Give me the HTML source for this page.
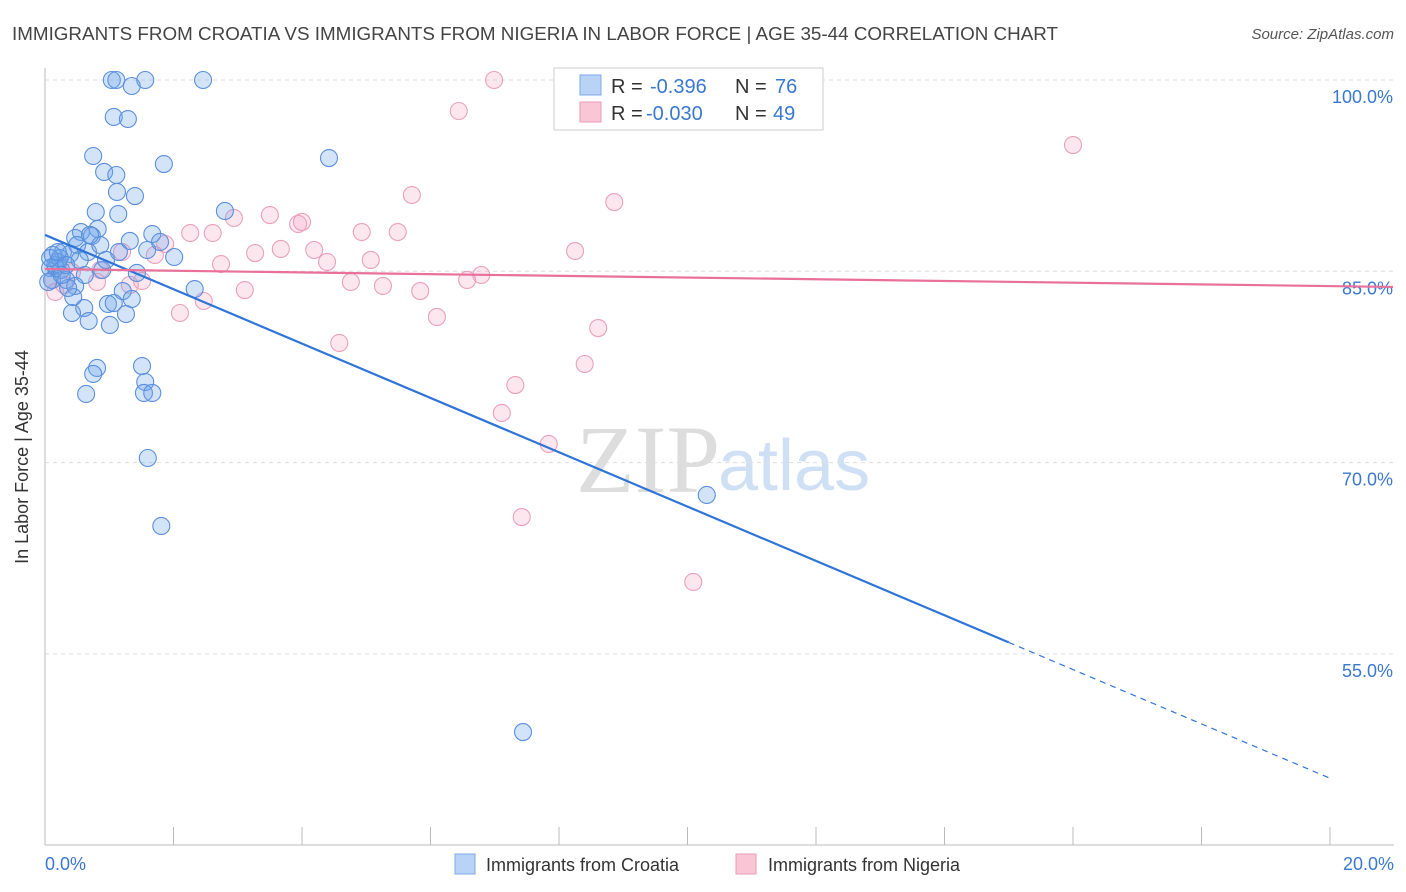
<!DOCTYPE html>
<html><head><meta charset="utf-8"><style>
body{margin:0;background:#fff;font-family:"Liberation Sans",sans-serif}
svg{display:block}
</style></head><body>
<svg id="chart" width="1406" height="892">
<text x="12" y="40" font-size="18" fill="#444" textLength="1046" lengthAdjust="spacingAndGlyphs">IMMIGRANTS FROM CROATIA VS IMMIGRANTS FROM NIGERIA IN LABOR FORCE | AGE 35-44 CORRELATION CHART</text>
<text x="1394" y="39" font-size="15" fill="#555" font-style="italic" text-anchor="end">Source: ZipAtlas.com</text>
<text x="720" y="492" font-size="96" fill="#ddd" text-anchor="end" font-family="Liberation Serif,serif">ZIP</text>
<text x="718" y="490" font-size="72" fill="#cfe0f4">atlas</text>
<g id="grid"></g>
<line x1="45" y1="68" x2="45" y2="845" stroke="#bbb"/>
<line x1="45" y1="845" x2="1394" y2="845" stroke="#bbb"/>
<text x="28" y="457" font-size="18" fill="#333" text-anchor="middle" transform="rotate(-90 28 457)">In Labor Force | Age 35-44</text>
<text x="45" y="870" font-size="18" fill="#3a78d0">0.0%</text>
<text x="1394" y="870" font-size="18" fill="#3a78d0" text-anchor="end">20.0%</text>
<g id="pts"></g>
<g id="lines"></g>
<g>
<rect x="554" y="68" width="269" height="62" fill="#fff" stroke="#ccc"/>
<rect x="580" y="75" width="21" height="20" fill="#b8d3f5" stroke="#7ea9e6"/>
<rect x="580" y="102" width="21" height="20" fill="#f9c6d6" stroke="#eb9ab6"/>
<text y="93" font-size="20" fill="#333"><tspan x="611">R =</tspan><tspan x="650" fill="#3a78d0">-0.396</tspan><tspan x="735">N =</tspan><tspan x="775" fill="#3a78d0">76</tspan></text>
<text y="120" font-size="20" fill="#333"><tspan x="611">R =</tspan><tspan x="646" fill="#3a78d0">-0.030</tspan><tspan x="735">N =</tspan><tspan x="773" fill="#3a78d0">49</tspan></text>
</g>
<g>
<rect x="455" y="854" width="20" height="20" fill="#b8d3f5" stroke="#7ea9e6"/>
<text x="486" y="871" font-size="18" fill="#333">Immigrants from Croatia</text>
<rect x="736" y="854" width="20" height="20" fill="#f9c6d6" stroke="#eb9ab6"/>
<text x="768" y="871" font-size="18" fill="#333">Immigrants from Nigeria</text>
</g>
</svg>
<script>
const yTicks=[100,85,70,55];
const yTickLabels=["100.0%","85.0%","70.0%","55.0%"];
const xTicks=[0,2,4,6,8,10,12,14,16,18,20];
const croatiaX=[1.04,1.11,1.56,2.46,1.35,1.07,1.29,0.75,4.42,1.85,0.92,1.11,1.12,1.40,2.80,0.79,1.14,0.56,0.82,1.67,0.47,0.73,1.32,1.79,0.50,1.59,0.28,0.39,0.67,0.12,1.15,2.01,0.20,0.08,0.17,0.25,0.89,1.43,0.11,0.33,0.47,1.21,2.33,0.44,0.98,1.07,1.35,0.61,0.42,1.26,0.68,1.01,0.81,0.75,1.51,1.56,0.64,1.54,1.67,1.60,10.30,1.81,7.44,0.16,0.23,0.05,0.08,0.54,0.33,0.20,0.86,0.62,0.36,0.70,0.95,0.26];
const croatiaY=[100,100,100,100,99.53,97.10,96.94,94.04,93.88,93.41,92.79,92.55,91.22,90.90,89.73,89.65,89.49,88.08,88.32,87.92,87.61,87.77,87.38,87.30,87.06,86.67,86.51,86.36,86.51,86.28,86.51,86.12,85.73,85.26,85.26,85.10,85.10,84.87,84.32,84.32,83.85,83.45,83.61,82.98,82.44,82.51,82.83,82.12,81.73,81.65,81.10,80.79,77.42,76.95,77.57,76.32,75.38,75.46,75.46,70.36,67.46,65.03,48.87,85.49,86.04,84.16,86.04,85.89,85.49,86.51,87.06,84.71,83.69,87.85,85.89,84.71];
const nigeriaX=[6.99,11.91,6.44,16.00,5.71,8.86,2.94,3.50,3.94,4.00,2.61,2.26,4.93,5.49,1.87,3.27,3.67,4.19,8.25,1.20,1.71,4.39,5.07,2.74,0.86,0.42,6.79,6.57,4.76,5.26,3.11,5.84,1.51,0.81,0.30,0.16,0.11,2.47,2.10,6.10,8.61,4.58,8.40,7.32,7.11,7.84,7.42,10.09,1.32];
const nigeriaY=[100,100,97.57,94.90,90.98,90.43,89.18,89.41,88.71,88.87,88.00,88.00,88.08,88.08,87.14,86.43,86.75,86.67,86.59,86.51,86.28,85.73,85.89,85.57,85.10,84.94,84.71,84.32,84.16,83.85,83.53,83.45,84.24,84.16,83.93,83.38,84.32,82.67,81.73,81.42,80.55,79.38,77.73,76.08,73.89,71.46,65.73,60.64,83.93];
const croatiaTrend=[87.85,-2.13];
const nigeriaTrend=[85.18,-0.067];
const NS="http://www.w3.org/2000/svg";
const xs=v=>45+v/20*1285, ys=v=>80+(100-v)*12.753;
function mk(t,a,p){const e=document.createElementNS(NS,t);for(const k in a)e.setAttribute(k,a[k]);p.appendChild(e);return e;}
const grid=document.getElementById('grid');
yTicks.forEach((t,i)=>{
 const l=mk('line',{x1:45,x2:1394,y1:ys(t),y2:ys(t),stroke:'#ddd','stroke-dasharray':'4 4'},grid);
 
 
 const tx=mk('text',{x:1393,y:ys(t)+23,'font-size':18,fill:'#3a78d0','text-anchor':'end'},grid);
 tx.textContent=yTickLabels[i];
 
 
});
xTicks.slice(1).forEach(t=>{
 const l=mk('line',{x1:xs(t),x2:xs(t),y1:827,y2:845,stroke:'#bbb'},grid);
 
 
});
const pts=document.getElementById('pts');
nigeriaX.forEach((x,i)=>{
 const c=mk('circle',{cx:xs(x),cy:ys(nigeriaY[i]),r:8.5,fill:'rgba(245,160,190,0.25)',stroke:'#eba0ba','stroke-width':1.1},pts);
 
 
});
croatiaX.forEach((x,i)=>{
 const c=mk('circle',{cx:xs(x),cy:ys(croatiaY[i]),r:8.5,fill:'rgba(110,165,235,0.3)',stroke:'#5b8fdc','stroke-width':1.1},pts);
 
 
});
const lines=document.getElementById('lines');
const bx=15.0;
const b1=mk('line',{x1:xs(0),y1:ys(croatiaTrend[0]),x2:xs(bx),y2:ys(croatiaTrend[0]+croatiaTrend[1]*bx),stroke:'#2f74d8','stroke-width':2.2},lines);


const b2=mk('line',{x1:xs(bx),y1:ys(croatiaTrend[0]+croatiaTrend[1]*bx),x2:xs(20),y2:ys(croatiaTrend[0]+croatiaTrend[1]*20),stroke:'#2f74d8','stroke-width':1.2,'stroke-dasharray':'6 5'},lines);


const p1=mk('line',{x1:xs(0),y1:ys(nigeriaTrend[0]),x2:1393,y2:ys(nigeriaTrend[0]+nigeriaTrend[1]*((1393-45)/64.25)),stroke:'#e8709a','stroke-width':2.2},lines);


</script>
</body></html>
